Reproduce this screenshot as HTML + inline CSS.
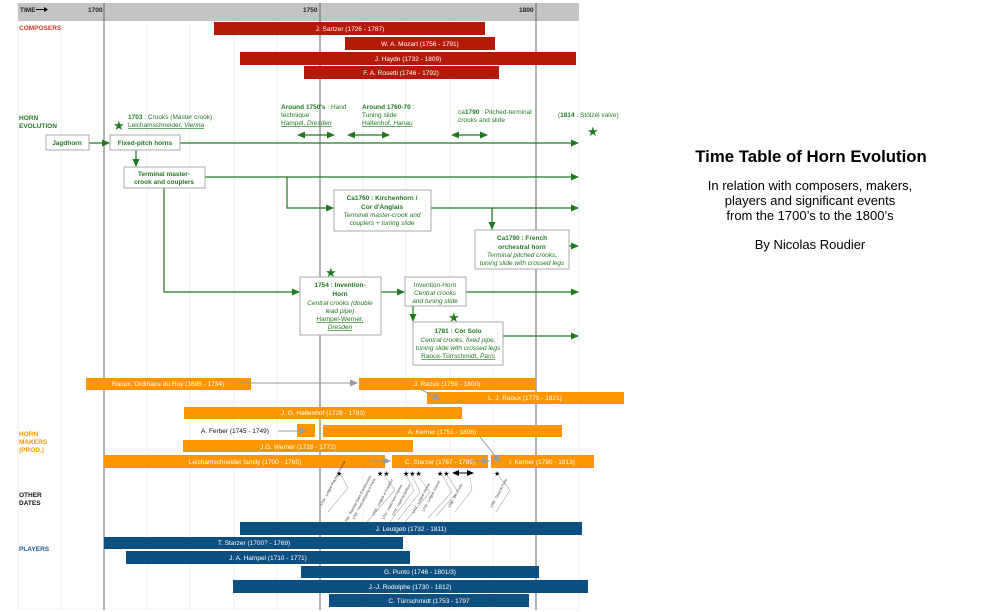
<!DOCTYPE html>
<html><head><meta charset="utf-8"><style>
html,body{margin:0;padding:0;background:#fff;}
svg{display:block;font-family:"Liberation Sans",sans-serif;}
</style></head><body>
<svg width="1008" height="612" viewBox="0 0 1008 612">
<defs>
<marker id="ga" markerWidth="8" markerHeight="8" refX="7" refY="4" orient="auto" markerUnits="userSpaceOnUse"><path d="M0,0.5 L8,4 L0,7.5z" fill="#1f7a1f"/></marker>
<marker id="gs" markerWidth="8" markerHeight="8" refX="1" refY="4" orient="auto-start-reverse" markerUnits="userSpaceOnUse"><path d="M0,0.5 L8,4 L0,7.5z" fill="#1f7a1f"/></marker>
<marker id="ya" markerWidth="8" markerHeight="8" refX="7" refY="4" orient="auto" markerUnits="userSpaceOnUse"><path d="M0,0.5 L8,4 L0,7.5z" fill="#999"/></marker>
<marker id="ka" markerWidth="7" markerHeight="7" refX="6" refY="3.5" orient="auto-start-reverse" markerUnits="userSpaceOnUse"><path d="M0,0.5 L7,3.5 L0,6.5z" fill="#000"/></marker>
</defs>
<g stroke="#f0f0f0" stroke-width="1">
<line x1="18" y1="3" x2="18" y2="610"/><line x1="61" y1="21" x2="61" y2="610"/><line x1="147" y1="21" x2="147" y2="610"/><line x1="190" y1="21" x2="190" y2="610"/><line x1="234" y1="21" x2="234" y2="610"/><line x1="277" y1="21" x2="277" y2="610"/><line x1="363" y1="21" x2="363" y2="610"/><line x1="406" y1="21" x2="406" y2="610"/><line x1="450" y1="21" x2="450" y2="610"/><line x1="493" y1="21" x2="493" y2="610"/><line x1="579" y1="21" x2="579" y2="610"/>
</g>
<rect x="18" y="3" width="561" height="18" fill="#c4c4c4"/>
<line x1="18" y1="609" x2="579" y2="609" stroke="#f0f0f0"/>
<g stroke="#666" stroke-width="1"><line x1="104" y1="3" x2="104" y2="610"/><line x1="320" y1="3" x2="320" y2="610"/><line x1="536" y1="3" x2="536" y2="610"/></g>
<g font-size="6.5" font-weight="bold" fill="#222">
<text x="20" y="12">TIME</text><path d="M36,9.5 H45" stroke="#000" stroke-width="1"/><path d="M44,7 L48,9.5 L44,12z" fill="#000"/>
<text x="88" y="12">1700</text><text x="303" y="12">1750</text><text x="519" y="12">1800</text></g>
<g font-size="6.5" font-weight="bold">
<text x="19" y="30" fill="#d0392b">COMPOSERS</text>
<text x="19" y="120" fill="#1f7a1f">HORN</text><text x="19" y="128" fill="#1f7a1f">EVOLUTION</text>
<text x="19" y="436" fill="#ff9500">HORN</text><text x="19" y="444" fill="#ff9500">MAKERS</text><text x="19" y="452" fill="#ff9500">(PROD.)</text>
<text x="19" y="497" fill="#111">OTHER</text><text x="19" y="505" fill="#111">DATES</text>
<text x="19" y="551" fill="#1b5a8c">PLAYERS</text></g>
<g fill="#b51a08"><rect x="214" y="22" width="271" height="13"/><rect x="345" y="37" width="150" height="13"/><rect x="240" y="52" width="336" height="13"/><rect x="304" y="66" width="195" height="13"/></g>
<g font-size="6.5" fill="#fff" text-anchor="middle"><text x="350" y="31">J. Sartzer (1726 - 1787)</text><text x="420" y="46">W. A. Mozart (1756 - 1791)</text><text x="408" y="61">J. Haydn (1732 - 1809)</text><text x="401" y="75">F. A. Rosetti (1746 - 1792)</text></g>
<g fill="#ff9500"><rect x="86" y="378" width="165" height="12"/><rect x="359" y="378" width="177" height="12"/><rect x="427" y="392" width="197" height="12"/><rect x="184" y="407" width="278" height="12"/><rect x="297" y="424" width="18" height="13"/><rect x="323" y="425" width="239" height="12"/><rect x="183" y="440" width="230" height="12"/><rect x="104" y="455" width="281" height="13"/><rect x="392" y="455" width="96" height="13"/><rect x="491" y="455" width="103" height="13"/></g>
<g font-size="6.5" fill="#fff" text-anchor="middle"><text x="168" y="386">Raoux, Ordinaire du Roy (1695 - 1734)</text><text x="447" y="386">J. Raoux (1759 - 1800)</text><text x="525" y="400">L. J. Raoux (1775 - 1821)</text><text x="323" y="415">J. G. Haltenhof (1728 - 1783)</text><text x="442" y="434">A. Kerner (1751 - 1806)</text><text x="298" y="449">J.G. Werner (1728 - 1772)</text><text x="245" y="464">Leichamschneider family (1700 - 1765)</text><text x="440" y="464">C. Starzer (1767 - 1789)</text><text x="542" y="464">I. Kerner (1790 - 1813)</text></g>
<text x="201" y="433" font-size="6.5" fill="#111">A. Ferber (1745 - 1749)</text>
<g stroke="#999" stroke-width="1" fill="none" marker-end="url(#ya)"><line x1="243" y1="383" x2="357" y2="383"/><line x1="420" y1="389" x2="440" y2="399"/><line x1="278" y1="431" x2="306" y2="431"/><line x1="480" y1="437" x2="500" y2="462"/><line x1="370" y1="461" x2="390" y2="461"/><line x1="470" y1="461" x2="489" y2="461"/></g>
<g font-size="7" fill="#000"><text x="336" y="476">★</text><text x="377" y="476">★★</text><text x="403" y="476">★★★</text><text x="437" y="476">★★</text><text x="494" y="476">★</text></g>
<line x1="453" y1="473" x2="473" y2="473" stroke="#000" marker-end="url(#ka)" marker-start="url(#ka)"/>
<g stroke="#aaa" stroke-width="0.6" fill="none"><path d="M341,475 L348,488 L328,512"/><path d="M384,475 L395,490 L360,530"/><path d="M406,475 L414,490 L390,522"/><path d="M412,475 L420,492 L398,520"/><path d="M417,475 L430,492 L405,522"/><path d="M442,475 L452,492 L428,518"/><path d="M447,475 L458,492 L436,516"/><path d="M470,478 L472,490 L455,512"/><path d="M498,475 L510,490 L496,512"/></g>
<g font-size="3.5" fill="#333">
<text transform="translate(322,506) rotate(-62)">1754 : Leitgeb Playing in Vienna</text>
<text transform="translate(346,524) rotate(-62)">1764 : Ramsay Bass (Construction</text>
<text transform="translate(354,520) rotate(-62)">1766 : Hand-stopping in Paris</text>
<text transform="translate(374,516) rotate(-62)">1770 : Leitgeb in Frankfurt</text>
<text transform="translate(384,520) rotate(-62)">1772 : Hand horn Vienna</text>
<text transform="translate(394,516) rotate(-62)">1775 : Hand technique</text>
<text transform="translate(414,514) rotate(-62)">1777 : Leitgeb Vienna</text>
<text transform="translate(424,512) rotate(-62)">1779 : Leitgeb concert</text>
<text transform="translate(450,508) rotate(-62)">1780 - 89 : Punto</text>
<text transform="translate(492,508) rotate(-62)">1795 : Dauprat Paris</text></g>
<g fill="#0d4f80"><rect x="240" y="522" width="342" height="13"/><rect x="104" y="537" width="299" height="12"/><rect x="126" y="551" width="284" height="13"/><rect x="301" y="566" width="238" height="12"/><rect x="233" y="580" width="355" height="13"/><rect x="329" y="594" width="200" height="13"/></g>
<g font-size="6.5" fill="#fff" text-anchor="middle"><text x="411" y="531">J. Leutgeb (1732 - 1811)</text><text x="254" y="545">T. Starzer (1700? - 1769)</text><text x="268" y="560">J. A. Hampel (1710 - 1771)</text><text x="420" y="574">G. Punto (1746 - 1801/3)</text><text x="410" y="589">J.-J. Rodolphe (1730 - 1812)</text><text x="429" y="603">C. Türrschmidt (1753 - 1797</text></g>
<g font-size="6.5" fill="#1f7a1f">
<text x="128" y="119"><tspan font-weight="bold">1703</tspan> : Crooks  (Master crook)</text>
<text x="128" y="127" text-decoration="underline">Leichamschneider, <tspan font-style="italic">Vienna</tspan></text>
<text x="281" y="109"><tspan font-weight="bold">Around 1750's</tspan> : Hand</text><text x="281" y="117">technique</text><text x="281" y="125" text-decoration="underline">Hampel, <tspan font-style="italic">Dresden</tspan></text>
<text x="362" y="109"><tspan font-weight="bold">Around 1760-70</tspan> :</text><text x="362" y="117">Tuning slide</text><text x="362" y="125" text-decoration="underline">Haltenhof, <tspan font-style="italic">Hanau</tspan></text>
<text x="458" y="114">ca<tspan font-weight="bold">1790</tspan> : Pitched-terminal</text><text x="458" y="122">crooks and slide</text>
<text x="558" y="117">(<tspan font-weight="bold">1814</tspan> : Stölzel valve)</text></g>
<g font-size="13" fill="#1f7a1f"><text x="113" y="130">★</text><text x="587" y="136">★</text><text x="325" y="277">★</text><text x="448" y="322">★</text></g>
<g stroke="#1f7a1f" stroke-width="1.2" fill="none">
<line x1="304" y1="135" x2="334" y2="135" marker-end="url(#ga)" marker-start="url(#gs)"/>
<line x1="354" y1="135" x2="389" y2="135" marker-end="url(#ga)" marker-start="url(#gs)"/>
<line x1="458" y1="135" x2="487" y2="135" marker-end="url(#ga)" marker-start="url(#gs)"/>
<line x1="89" y1="143" x2="109" y2="143" marker-end="url(#ga)"/>
<line x1="180" y1="143" x2="578" y2="143" marker-end="url(#ga)"/>
<line x1="136" y1="150" x2="136" y2="166" marker-end="url(#ga)"/>
<line x1="205" y1="177" x2="578" y2="177" marker-end="url(#ga)"/>
<polyline points="287,177 287,208 333,208" marker-end="url(#ga)"/>
<line x1="431" y1="208" x2="578" y2="208" marker-end="url(#ga)"/>
<line x1="492" y1="208" x2="492" y2="229" marker-end="url(#ga)"/>
<line x1="569" y1="246" x2="578" y2="246" marker-end="url(#ga)"/>
<polyline points="164,188 164,292 299,292" marker-end="url(#ga)"/>
<line x1="381" y1="292" x2="404" y2="292" marker-end="url(#ga)"/>
<line x1="466" y1="292" x2="578" y2="292" marker-end="url(#ga)"/>
<line x1="413" y1="306" x2="413" y2="321" marker-end="url(#ga)"/>
<line x1="503" y1="336" x2="578" y2="336" marker-end="url(#ga)"/>
</g>
<g fill="#fff" stroke="#aaa" stroke-width="1">
<rect x="46" y="135" width="43" height="15"/><rect x="110" y="135" width="70" height="15"/><rect x="124" y="167" width="81" height="21"/><rect x="334" y="190" width="97" height="41"/><rect x="475" y="230" width="94" height="39"/><rect x="300" y="277" width="81" height="58"/><rect x="405" y="277" width="61" height="29"/><rect x="413" y="322" width="90" height="43"/></g>
<g font-size="6.5" fill="#1f7a1f" text-anchor="middle">
<text x="67" y="145" font-weight="bold">Jagdhorn</text><text x="145" y="145" font-weight="bold">Fixed-pitch horns</text>
<text x="164" y="176" font-weight="bold">Terminal master-</text><text x="164" y="184" font-weight="bold">crook and couplers</text>
<text x="382" y="200" font-weight="bold">Ca1760 : Kirchenhorn /</text><text x="382" y="209" font-weight="bold">Cor d'Anglais</text><text x="382" y="217" font-style="italic">Terminal master-crook and</text><text x="382" y="225" font-style="italic">couplers + tuning slide</text>
<text x="522" y="240" font-weight="bold">Ca1790 : French</text><text x="522" y="249" font-weight="bold">orchestral horn</text><text x="522" y="257" font-style="italic">Terminal pitched crooks,</text><text x="522" y="265" font-style="italic">tuning slide with crossed legs</text>
<text x="340" y="287" font-weight="bold">1754 : Invention-</text><text x="340" y="296" font-weight="bold">Horn</text><text x="340" y="305" font-style="italic">Central crooks (double</text><text x="340" y="313" font-style="italic">lead pipe)</text><text x="340" y="321" text-decoration="underline">Hampel-Werner,</text><text x="340" y="329" text-decoration="underline" font-style="italic">Dresden</text>
<text x="435" y="287">Invention-Horn</text><text x="435" y="295" font-style="italic">Central crooks</text><text x="435" y="303" font-style="italic">and tuning slide</text>
<text x="458" y="333" font-weight="bold">1781 : Cor Solo</text><text x="458" y="342" font-style="italic">Central crooks, fixed pipe,</text><text x="458" y="350" font-style="italic">tuning slide with crossed legs</text><text x="458" y="358" text-decoration="underline">Raoux-Türrschmidt, <tspan font-style="italic">Paris</tspan></text></g>
<g text-anchor="middle" fill="#000">
<text x="811" y="162" font-size="16.8" font-weight="bold">Time Table of Horn Evolution</text>
<text x="810" y="190" font-size="13">In relation with composers, makers,</text>
<text x="810" y="205" font-size="13">players and significant events</text>
<text x="810" y="220" font-size="13">from the 1700’s to the 1800’s</text>
<text x="810" y="249" font-size="13">By Nicolas Roudier</text></g>
</svg>
</body></html>
